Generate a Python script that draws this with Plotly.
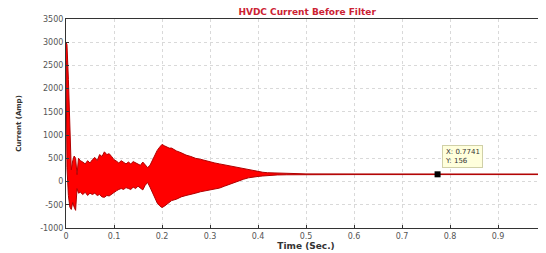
import plotly.graph_objects as go

# Envelope of the (high-frequency) HVDC current
time_s = [0.000, 0.002, 0.005, 0.008, 0.011, 0.014, 0.017, 0.020, 0.023, 0.026, 0.030,
          0.035, 0.040, 0.045, 0.050, 0.055, 0.060, 0.065, 0.070, 0.075, 0.080, 0.085,
          0.090, 0.095, 0.100, 0.105, 0.110, 0.115, 0.120, 0.125, 0.130, 0.135, 0.140,
          0.145, 0.150, 0.155, 0.160, 0.165, 0.170, 0.175, 0.180, 0.185, 0.190, 0.195,
          0.200, 0.205, 0.210, 0.215, 0.220, 0.230, 0.240, 0.250, 0.260, 0.270, 0.280,
          0.290, 0.300, 0.310, 0.320, 0.330, 0.340, 0.350, 0.360, 0.370, 0.380, 0.390,
          0.400, 0.410, 0.420, 0.430, 0.440, 0.460, 0.480, 0.500, 0.600, 0.700, 0.800,
          0.900, 1.000]
upper_amp = [3000, 2950, 2200, 900, 250, 450, 550, 500, 150, 500, 450,
             420, 380, 450, 400, 470, 520, 450, 580, 540, 640, 580,
             600, 540, 470, 440, 400, 450, 420, 380, 420, 380, 430,
             400, 370, 350, 420, 360, 300, 350, 460, 580, 670, 740,
             800, 770, 750, 720, 720, 660, 620, 570, 540, 500, 480,
             450, 420, 400, 380, 360, 330, 310, 300, 280, 260, 240,
             215, 200, 190, 185, 180, 172, 168, 165, 164, 163, 162,
             162, 162]
lower_amp = [2600, 300, -300, -550, -600, -450, -550, -620, -150, -250, -230,
             -280, -230, -300, -250, -280, -250, -300, -280, -330, -340, -300,
             -310, -270, -220, -200, -170, -150, -170, -130, -150, -170, -120,
             -150, -100, -140, -180, -80, -20, -120, -240, -370, -460, -520,
             -560, -530, -490, -440, -410, -380, -330, -300, -280, -250, -220,
             -200, -180, -150, -140, -100, -60, -20, 20, 50, 80, 100,
             110, 120, 130, 138, 142, 146, 148, 150, 150, 150, 150,
             150, 150]

x_ticks = [0, 0.1, 0.2, 0.3, 0.4, 0.5, 0.6, 0.7, 0.8, 0.9]
x_tick_labels = ["0", "0.1", "0.2", "0.3", "0.4", "0.5", "0.6", "0.7", "0.8", "0.9"]
y_ticks = [-1000, -500, 0, 500, 1000, 1500, 2000, 2500, 3000, 3500]
y_tick_labels = ["-1000", "-500", "0", "500", "1000", "1500", "2000", "2500", "3000", "3500"]

tip_x = [0.7741]
tip_y = [156]

fig = go.Figure()
fig.add_trace(go.Scatter(x=time_s, y=lower_amp, mode="lines",
                         line=dict(color="#b00000", width=1), showlegend=False,
                         hoverinfo="skip"))
fig.add_trace(go.Scatter(x=time_s, y=upper_amp, mode="lines", fill="tonexty",
                         fillcolor="#ff0000",
                         line=dict(color="#b00000", width=1), showlegend=False,
                         hoverinfo="skip"))
fig.add_trace(go.Scatter(x=tip_x, y=tip_y, mode="markers",
                         marker=dict(symbol="square", size=6, color="black"),
                         showlegend=False))

fig.add_annotation(x=tip_x[0], y=tip_y[0], xref="x", yref="y",
                   text="X: 0.7741<br>Y: 156", showarrow=False,
                   xanchor="left", yanchor="bottom", xshift=4, yshift=6,
                   align="left", bgcolor="#ffffdc", bordercolor="#d0d0a8",
                   borderwidth=1, borderpad=2,
                   font=dict(family="DejaVu Sans", size=7, color="#333333"))

# the page body has an 8px margin, so the figure is sized to fit the 546x253 window
fig.update_layout(
    width=538, height=245,
    margin=dict(l=58, r=0, t=11, b=25),
    paper_bgcolor="white", plot_bgcolor="white",
    title=dict(text="<b>HVDC Current Before Filter</b>", x=0.556, xanchor="center",
               y=0.986, yanchor="middle",
               font=dict(family="DejaVu Sans", size=9, color="#cc2233")),
    font=dict(family="DejaVu Sans", size=8, color="#555555"),
)
fig.update_xaxes(range=[0, 1.0], tickvals=x_ticks, ticktext=x_tick_labels,
                 automargin=False,
                 showgrid=True, gridcolor="#d9d9d9", griddash="dot", gridwidth=1,
                 showline=True, linecolor="#333333", linewidth=1, mirror=True,
                 ticks="inside", ticklen=3, tickcolor="#333333", zeroline=False,
                 tickfont=dict(size=8),
                 title=dict(text="<b>Time (Sec.)</b>", standoff=0,
                            font=dict(size=9, color="#333333")))
fig.update_yaxes(range=[-1000, 3500], tickvals=y_ticks, ticktext=y_tick_labels,
                 automargin=False,
                 showgrid=True, gridcolor="#d9d9d9", griddash="dot", gridwidth=1,
                 showline=True, linecolor="#333333", linewidth=1,
                 ticks="inside", ticklen=3, tickcolor="#333333", zeroline=False,
                 tickfont=dict(size=8),
                 title=dict(text="<b>Current (Amp)</b>", standoff=17,
                            font=dict(size=7, color="#333333")))

fig.write_html("out.html")
